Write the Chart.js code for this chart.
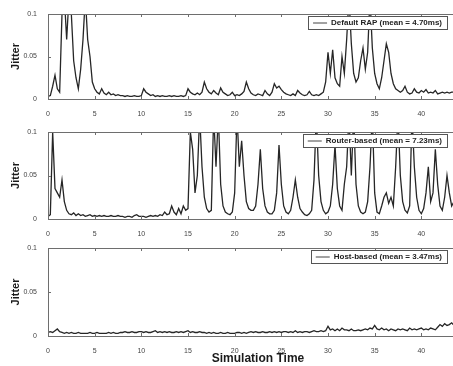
<!DOCTYPE html>
<html>
<head>
<meta charset="utf-8">
<script src="https://cdn.jsdelivr.net/npm/chart.js@4.4.0/dist/chart.umd.min.js"></script>
<style>
  html, body { margin: 0; padding: 0; background: #fff; }
  #wrap { position: relative; width: 453px; height: 366px; overflow: hidden; }
  canvas { position: absolute; left: 0; }
</style>
</head>
<body>
<div id="wrap">
  <canvas id="rap" width="476" height="117" style="top:0"></canvas>
  <canvas id="router" width="476" height="119" style="top:118px"></canvas>
  <canvas id="host" width="476" height="129" style="top:237px"></canvas>
</div>
<script>
// jitter samples, one every 0.25 s of simulation time (4 per row = 1 s)
const sampleStep = 0.25;

const rapJitter = [
  .003, .004, .015, .028,   .012, .008, .100, .120,   .070, .120, .100, .045,
  .025, .012, .035, .070,   .120, .070, .050, .020,   .012, .008, .006, .012,
  .007, .005, .008, .005,   .006, .004, .005, .004,   .004, .003, .004, .003,
  .003, .004, .003, .003,   .004, .012, .008, .006,   .004, .005, .003, .004,
  .003, .004, .003, .003,   .004, .003, .004, .003,   .003, .004, .003, .004,
  .012, .008, .006, .005,   .007, .005, .008, .020,   .012, .008, .006, .010,
  .007, .005, .013, .008,   .006, .004, .005, .008,   .004, .005, .004, .006,
  .009, .020, .012, .007,   .005, .004, .006, .005,   .004, .010, .006, .004,
  .008, .018, .013, .015,   .011, .008, .006, .005,   .004, .006, .004, .010,
  .007, .005, .004, .005,   .009, .005, .004, .005,   .004, .006, .008, .020,
  .055, .030, .058, .025,   .018, .015, .050, .030,   .070, .120, .065, .030,
  .020, .025, .045, .060,   .035, .055, .120, .060,   .030, .018, .012, .025,
  .045, .065, .055, .030,   .018, .012, .010, .008,   .010, .015, .008, .006,
  .007, .012, .008, .007,   .010, .008, .011, .007,   .008, .007, .010, .006,
  .007, .008, .007, .008,   .007, .008, .008, .007
];

const routerJitter = [
  .003, .005, .100, .035,   .030, .025, .045, .020,   .010, .006, .005, .007,
  .004, .006, .004, .005,   .003, .004, .005, .003,   .004, .003, .004, .003,
  .004, .003, .003, .004,   .003, .003, .004, .003,   .003, .002, .003, .003,
  .002, .004, .005, .003,   .003, .003, .002, .003,   .004, .003, .004, .003,
  .005, .004, .008, .005,   .006, .015, .008, .005,   .012, .006, .015, .010,
  .012, .100, .080, .030,   .050, .120, .060, .025,   .012, .008, .010, .120,
  .060, .120, .040, .015,   .008, .006, .005, .008,   .030, .120, .060, .090,
  .050, .020, .012, .010,   .010, .015, .040, .080,   .035, .015, .008, .006,
  .006, .010, .030, .085,   .040, .015, .008, .006,   .010, .025, .045, .025,
  .012, .008, .005, .004,   .006, .010, .045, .120,   .050, .020, .010, .006,
  .008, .015, .040, .085,   .035, .015, .010, .040,   .060, .120, .050, .120,
  .040, .015, .008, .006,   .008, .020, .060, .120,   .030, .008, .006, .015,
  .025, .030, .018, .025,   .015, .060, .120, .050,   .020, .010, .007, .015,
  .120, .060, .025, .010,   .006, .012, .030, .060,   .020, .030, .080, .040,
  .015, .010, .025, .050,   .030, .015, .020, .035
];

const hostJitter = [
  .004, .005, .004, .006,   .008, .005, .004, .003,   .004, .003, .004, .003,
  .003, .004, .003, .003,   .003, .003, .004, .003,   .003, .004, .003, .003,
  .003, .003, .004, .003,   .004, .003, .003, .004,   .004, .005, .004, .004,
  .005, .004, .004, .005,   .005, .004, .005, .004,   .004, .005, .006, .004,
  .005, .004, .005, .004,   .005, .004, .004, .005,   .004, .005, .004, .005,
  .006, .004, .005, .004,   .004, .005, .004, .004,   .003, .004, .003, .004,
  .003, .003, .004, .003,   .003, .004, .003, .003,   .003, .004, .004, .003,
  .004, .003, .004, .005,   .004, .005, .004, .004,   .005, .004, .004, .005,
  .004, .005, .004, .005,   .004, .005, .005, .004,   .005, .004, .006, .004,
  .005, .004, .005, .005,   .004, .005, .006, .005,   .005, .006, .005, .006,
  .011, .007, .008, .006,   .008, .006, .009, .007,   .007, .006, .008, .006,
  .006, .007, .006, .007,   .008, .007, .009, .008,   .012, .008, .007, .009,
  .007, .008, .006, .008,   .007, .006, .008, .007,   .008, .007, .006, .009,
  .007, .008, .007, .008,   .009, .007, .008, .007,   .009, .008, .007, .010,
  .013, .011, .014, .012,   .013, .015, .012, .014
];

const xTicks = [0, 5, 10, 15, 20, 25, 30, 35, 40, 45];
const yTicks = [0, 0.05, 0.1];

const toPoints = vals => vals.map((v, i) => ({ x: i * sampleStep, y: v }));

// matlab-ish box, inward ticks and a boxed legend in the top-right corner
const matlabFrame = {
  id: 'matlabFrame',
  afterDraw(chart) {
    const { ctx, chartArea: a, scales: { x, y } } = chart;
    ctx.save();
    ctx.strokeStyle = '#6e6e6e';
    ctx.lineWidth = 1;
    ctx.strokeRect(Math.round(a.left) + 0.5, Math.round(a.top) + 0.5, Math.round(a.width), Math.round(a.height));

    ctx.beginPath();
    xTicks.forEach(v => {
      const px = Math.round(x.getPixelForValue(v)) + 0.5;
      ctx.moveTo(px, a.bottom); ctx.lineTo(px, a.bottom - 3);
      ctx.moveTo(px, a.top); ctx.lineTo(px, a.top + 3);
    });
    yTicks.forEach(v => {
      const py = Math.round(y.getPixelForValue(v)) + 0.5;
      ctx.moveTo(a.left, py); ctx.lineTo(a.left + 3, py);
    });
    ctx.stroke();

    const label = chart.data.datasets[0].label;
    ctx.font = 'bold 8px "Liberation Sans", Arial, sans-serif';
    const tw = ctx.measureText(label).width;
    const boxR = a.right - 21;
    const boxW = tw + 28;
    const boxL = boxR - boxW;
    const boxT = a.top + 2;
    ctx.fillStyle = '#fff';
    ctx.fillRect(boxL, boxT, boxW, 13);
    ctx.strokeStyle = '#555';
    ctx.strokeRect(Math.round(boxL) + 0.5, boxT + 0.5, Math.round(boxW), 13);
    ctx.beginPath();
    ctx.strokeStyle = '#444';
    ctx.moveTo(boxL + 5, boxT + 7); ctx.lineTo(boxL + 19, boxT + 7);
    ctx.stroke();
    ctx.fillStyle = '#222';
    ctx.textBaseline = 'middle';
    ctx.fillText(label, boxL + 23, boxT + 7);
    ctx.restore();
  }
};

const makePanel = (id, label, values, padTop, xTitle) => {
  return new Chart(document.getElementById(id), {
    type: 'line',
    data: {
      datasets: [{
        label: label,
        data: toPoints(values),
        borderColor: '#262626',
        borderWidth: 1.3,
        pointRadius: 0,
        tension: 0
      }]
    },
    options: {
      responsive: false,
      animation: false,
      layout: { padding: { top: padTop, right: 8, left: 0, bottom: 0 } },
      plugins: {
        legend: { display: false },
        tooltip: { enabled: false }
      },
      scales: {
        x: {
          type: 'linear',
          min: 0,
          max: 45,
          afterFit: s => { s.height = xTitle ? 30 : 18; },
          afterBuildTicks: s => { s.ticks = xTicks.map(v => ({ value: v })); },
          grid: { display: false },
          border: { display: false },
          ticks: {
            color: '#444',
            font: { size: 7, family: '"Liberation Sans", Arial, sans-serif' },
            padding: 3,
            maxRotation: 0
          },
          title: {
            display: !!xTitle,
            text: xTitle || '',
            color: '#1a1a1a',
            font: { size: 12, weight: 'bold', family: '"Liberation Sans", Arial, sans-serif' },
            padding: { top: 1, bottom: 0 }
          }
        },
        y: {
          min: 0,
          max: 0.1,
          afterFit: s => { s.width = 48; },
          afterBuildTicks: s => { s.ticks = yTicks.map(v => ({ value: v })); },
          grid: { display: false },
          border: { display: false },
          ticks: {
            color: '#444',
            font: { size: 7, family: '"Liberation Sans", Arial, sans-serif' },
            padding: 3,
            callback: v => String(+v.toFixed(2))
          },
          title: {
            display: true,
            text: 'Jitter',
            color: '#1a1a1a',
            font: { size: 11, weight: 'bold', family: '"Liberation Sans", Arial, sans-serif' },
            padding: { top: 9, bottom: 0 }
          }
        }
      }
    },
    plugins: [matlabFrame]
  });
};

makePanel('rap', 'Default RAP (mean = 4.70ms)', rapJitter, 14);
makePanel('router', 'Router-based (mean = 7.23ms)', routerJitter, 14);
makePanel('host', 'Host-based (mean = 3.47ms)', hostJitter, 11, 'Simulation Time');
</script>
</body>
</html>
